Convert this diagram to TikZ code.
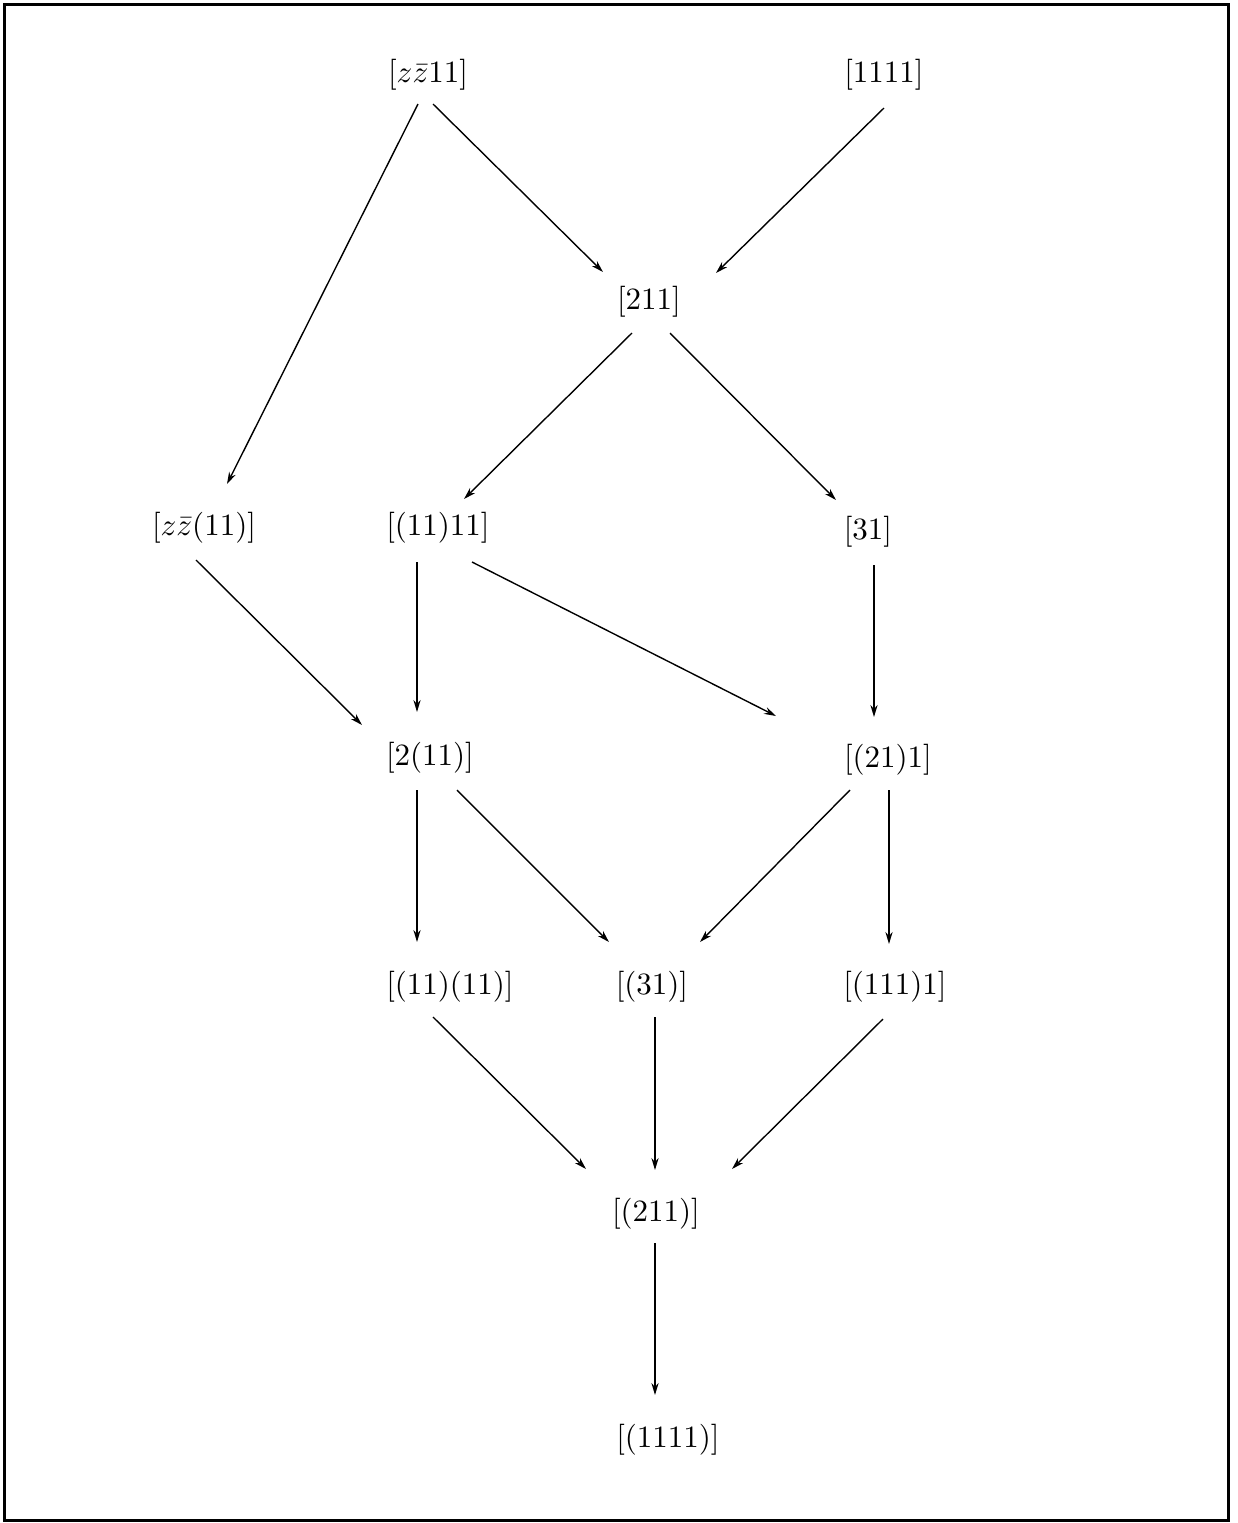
\documentclass[tikz,border=0pt]{standalone}
\usetikzlibrary{calc,arrows.meta}
\begin{document}
\begin{tikzpicture}[x=0.5pt,y=-0.5pt,
  lbl/.style={scale=1.55, inner sep=0pt},
  arr/.style={line width=0.7pt, -{Stealth[length=6pt,width=3.6pt]}}]
\useasboundingbox (0,0) rectangle (1238,1523);
\draw[line width=1.5pt] (4,4) rectangle (1228,1520);
\node[lbl] (zz11) at (428,75) {$[z\bar z11]$};
\node[lbl] (q1111) at (884,75) {$[1111]$};
\node[lbl] (n211) at (649,302) {$[211]$};
\node[lbl] (zzb) at (204,528) {$[z\bar z(11)]$};
\node[lbl] (a) at (438,528) {$[(11)11]$};
\node[lbl] (n31) at (868,532) {$[31]$};
\node[lbl] (b) at (430,758) {$[2(11)]$};
\node[lbl] (c) at (888,760) {$[(21)1]$};
\node[lbl] (d) at (450,987) {$[(11)(11)]$};
\node[lbl] (e) at (652,987) {$[(31)]$};
\node[lbl] (f) at (895,987) {$[(111)1]$};
\node[lbl] (g) at (656,1214) {$[(211)]$};
\node[lbl] (h) at (668,1440) {$[(1111)]$};
\draw[arr] ($(zz11)+(-10,29)$) -- ($(zzb)+(23,-44)$);
\draw[arr] ($(zz11)+(5,29)$) -- ($(n211)+(-46,-30)$);
\draw[arr] ($(q1111)+(0,33)$) -- ($(n211)+(67,-29)$);
\draw[arr] ($(n211)+(-17,31)$) -- ($(a)+(26,-29)$);
\draw[arr] ($(n211)+(21,31)$) -- ($(n31)+(-32,-32)$);
\draw[arr] ($(zzb)+(-8,32)$) -- ($(b)+(-68,-33)$);
\draw[arr] ($(a)+(-21,34)$) -- ($(b)+(-13,-46)$);
\draw[arr] ($(a)+(34,34)$) -- ($(c)+(-112,-44)$);
\draw[arr] ($(n31)+(6,33)$) -- ($(c)+(-14,-43)$);
\draw[arr] ($(b)+(-13,32)$) -- ($(d)+(-33,-45)$);
\draw[arr] ($(b)+(27,32)$) -- ($(e)+(-43,-45)$);
\draw[arr] ($(c)+(-38,30)$) -- ($(e)+(48,-45)$);
\draw[arr] ($(c)+(1,30)$) -- ($(f)+(-6,-43)$);
\draw[arr] ($(d)+(-17,30)$) -- ($(g)+(-70,-45)$);
\draw[arr] ($(e)+(3,30)$) -- ($(g)+(-1,-44)$);
\draw[arr] ($(f)+(-12,32)$) -- ($(g)+(76,-45)$);
\draw[arr] ($(g)+(-1,29)$) -- ($(h)+(-13,-45)$);
\end{tikzpicture}
\end{document}
